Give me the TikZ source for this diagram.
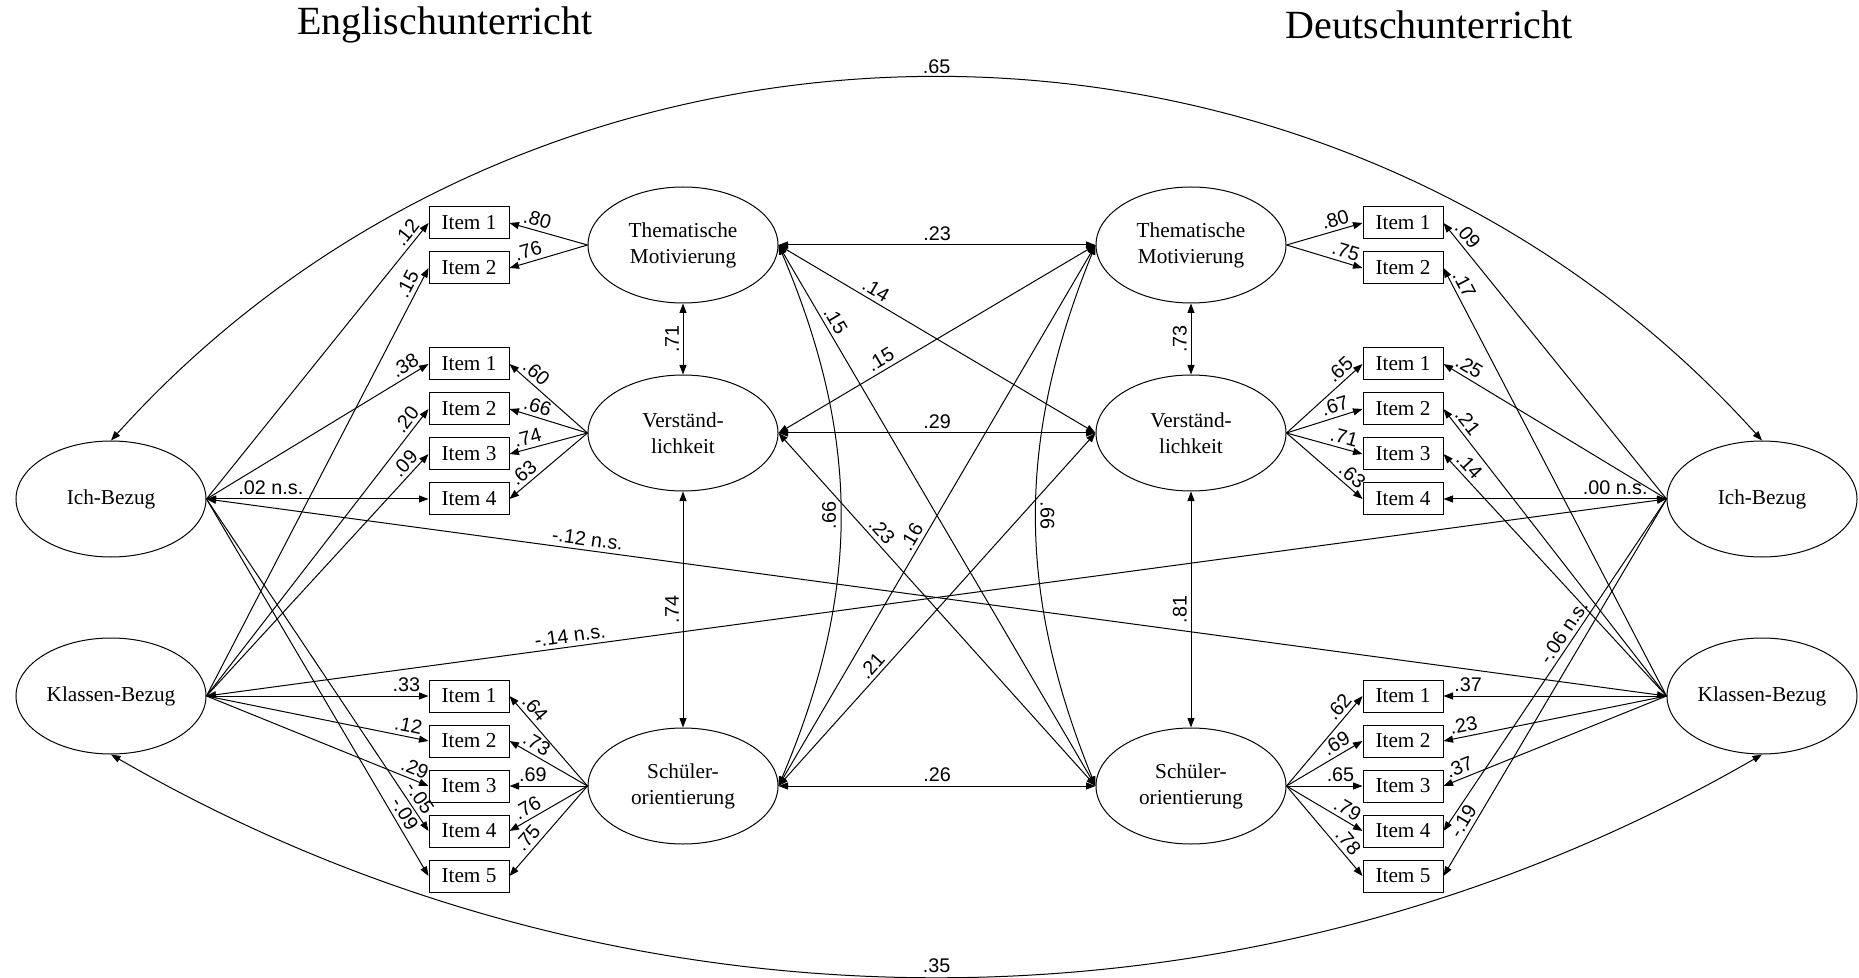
\documentclass[tikz,border=0pt]{standalone}
\usepackage{fontspec}
\setmainfont{Liberation Serif}
\newfontfamily\numfont{Liberation Sans}
\usetikzlibrary{arrows.meta,shapes.geometric}
\tikzstyle{latent}=[ellipse, draw=black, minimum width=76pt, minimum height=46.4pt, inner sep=0pt, align=center, font=\fontsize{8.5}{10.4}\selectfont]
\tikzstyle{itembox}=[rectangle, draw=black, minimum width=32pt, minimum height=12.8pt, inner sep=0pt, font=\fontsize{8.5}{10}\selectfont]
\tikzstyle{coef}=[font=\numfont\fontsize{7.9}{8}\selectfont, inner sep=1.5pt]
\tikzstyle{headline}=[font=\fontsize{16}{18}\selectfont]
\tikzstyle{conn}=[-{Triangle[length=3.8pt,width=2.8pt]}]
\tikzstyle{corr}=[{Triangle[length=3.8pt,width=2.8pt]}-{Triangle[length=3.8pt,width=2.8pt]}]
\newcommand{\itemcolumn}[4]
{
  \foreach \i in {1,...,#4}
    \node[itembox] (#1-\i) at (#2,{#3+45*(\i-1)}) {Item \i};
}

\begin{document}
\begin{tikzpicture}[x=0.4pt, y=-0.4pt, line width=0.4pt]
	\useasboundingbox (0,0) rectangle (1859,978);

	\node[headline] (engl) at (445,25) {Englischunterricht};
	\node[headline] (deut) at (1429,25) {Deutschunterricht};

	% latente Variablen
	\node[latent] (themL) at (683,245) {Thematische\\Motivierung};
	\node[latent] (verstL) at (683,433) {Verständ-\\lichkeit};
	\node[latent] (schuelL) at (683,786) {Schüler-\\orientierung};
	\node[latent] (themR) at (1191,245) {Thematische\\Motivierung};
	\node[latent] (verstR) at (1191,433) {Verständ-\\lichkeit};
	\node[latent] (schuelR) at (1191,786) {Schüler-\\orientierung};
	\node[latent] (ichL) at (111,499) {Ich-Bezug};
	\node[latent] (klassL) at (111,696) {Klassen-Bezug};
	\node[latent] (ichR) at (1762,499) {Ich-Bezug};
	\node[latent] (klassR) at (1762,696) {Klassen-Bezug};

	\itemcolumn{themL}{469}{223}{2}
	\itemcolumn{verstL}{469}{364}{4}
	\itemcolumn{schuelL}{469}{696}{5}
	\itemcolumn{themR}{1403}{223}{2}
	\itemcolumn{verstR}{1403}{364}{4}
	\itemcolumn{schuelR}{1403}{696}{5}

	% Ladungen
	\foreach \i/\v/\p in {1/.80/.68, 2/.76/.72}
		\draw[conn] (themL.west) -- node[coef, sloped, above, pos=\p] {\v} (themL-\i.east);
	\foreach \i/\v/\p in {1/.60/.75, 2/.66/.68, 3/.74/.73, 4/.63/.73}
		\draw[conn] (verstL.west) -- node[coef, sloped, above, pos=\p] {\v} (verstL-\i.east);
	\foreach \i/\v/\p in {1/.64/.78, 2/.73/.72, 3/.69/.70, 4/.76/.70, 5/.75/.66}
		\draw[conn] (schuelL.west) -- node[coef, sloped, above, pos=\p] {\v} (schuelL-\i.east);
	\foreach \i/\v/\p in {1/.80/.68, 2/.75/.74}
		\draw[conn] (themR.east) -- node[coef, sloped, above, pos=\p] {\v} (themR-\i.west);
	\foreach \i/\v/\p in {1/.65/.80, 2/.67/.68, 3/.71/.72, 4/.63/.77}
		\draw[conn] (verstR.east) -- node[coef, sloped, above, pos=\p] {\v} (verstR-\i.west);
	\foreach \i/\v/\p in {1/.62/.80, 2/.69/.73, 3/.65/.71, 4/.79/.73, 5/.78/.70}
		\draw[conn] (schuelR.east) -- node[coef, sloped, above, pos=\p] {\v} (schuelR-\i.west);

	% Bezugsnormen links
	\draw[conn] (ichL.east) -- node[coef, sloped, above, pos=.94] {.12} (themL-1.west);
	\draw[conn] (klassL.east) -- node[coef, sloped, above, pos=.95] {.15} (themL-2.west);
	\draw[conn] (ichL.east) -- node[coef, sloped, above, pos=.92] {.38} (verstL-1.west);
	\draw[conn] (klassL.east) -- node[coef, sloped, above, pos=.94] {.20} (verstL-2.west);
	\draw[conn] (klassL.east) -- node[coef, sloped, above, pos=.93] {.09} (verstL-3.west);
	\draw[corr] (ichL.east) -- node[coef, above, pos=.29] {.02 n.s.} (verstL-4.west);
	\foreach \i/\v/\p in {1/.33/.90, 2/.12/.90, 3/.29/.92}
		\draw[conn] (klassL.east) -- node[coef, sloped, above, pos=\p] {\v} (schuelL-\i.west);
	\draw[conn] (ichL.east) -- node[coef, sloped, above, pos=.92] {-.05} (schuelL-4.west);
	\draw[conn] (ichL.east) -- node[coef, sloped, above, pos=.85] {-.09} (schuelL-5.west);

	% Bezugsnormen rechts
	\draw[conn] (ichR.west) -- node[coef, sloped, above, pos=.93] {.09} (themR-1.east);
	\draw[conn] (klassR.west) -- node[coef, sloped, above, pos=.95] {.17} (themR-2.east);
	\draw[conn] (ichR.west) -- node[coef, sloped, above, pos=.91] {.25} (verstR-1.east);
	\draw[conn] (klassR.west) -- node[coef, sloped, above, pos=.93] {.21} (verstR-2.east);
	\draw[conn] (klassR.west) -- node[coef, sloped, above, pos=.92] {.14} (verstR-3.east);
	\draw[corr] (verstR-4.east) -- node[coef, above, pos=.77] {.00 n.s.} (ichR.west);
	\foreach \i/\v/\p in {1/.37/.89, 2/.23/.90, 3/.37/.91}
		\draw[conn] (klassR.west) -- node[coef, sloped, above, pos=\p] {\v} (schuelR-\i.east);
	\draw[conn] (ichR.west) -- node[coef, sloped, above, pos=.42] {-.06 n.s.} (schuelR-4.east);
	\draw[conn] (ichR.west) -- node[coef, sloped, above, pos=.87] {-.19} (schuelR-5.east);

	% Korrelationen
	\draw[corr] (ichL.east) -- node[coef, sloped, above, pos=.26] {-.12 n.s.} (klassR.west);
	\draw[corr] (klassL.east) -- node[coef, sloped, above, pos=.25] {-.14 n.s.} (ichR.west);
	\draw[corr] (ichL.north) to[bend left=48, looseness=1.01] node[coef, above] {.65} (ichR.north);
	\draw[corr] (klassL.south) to[bend right=30, looseness=0.92] node[coef, above] {.35} (klassR.south);

	\draw[corr] (themL.south) -- node[coef, midway, rotate=90, anchor=south] {.71} (verstL.north);
	\draw[corr] (verstL.south) -- node[coef, midway, rotate=90, anchor=south] {.74} (schuelL.north);
	\draw[corr] (themR.south) -- node[coef, midway, rotate=90, anchor=south] {.73} (verstR.north);
	\draw[corr] (verstR.south) -- node[coef, midway, rotate=90, anchor=south] {.81} (schuelR.north);

	\draw[corr] (themL.east) -- node[coef, above] {.23} (themR.west);
	\draw[corr] (verstL.east) -- node[coef, above] {.29} (verstR.west);
	\draw[corr] (schuelL.east) -- node[coef, above] {.26} (schuelR.west);
	\draw[corr] (themL.east) -- node[coef, sloped, above, pos=.29] {.14} (verstR.west);
	\draw[corr] (themL.east) -- node[coef, sloped, above, pos=.15] {.15} (schuelR.west);
	\draw[corr] (verstL.east) -- node[coef, sloped, above, pos=.34] {.15} (themR.west);
	\draw[corr] (verstL.east) -- node[coef, sloped, above, pos=.30] {.23} (schuelR.west);
	\draw[corr] (schuelL.east) -- node[coef, sloped, above, pos=.45] {.16} (themR.west);
	\draw[corr] (schuelL.east) -- node[coef, sloped, above, pos=.32] {.21} (verstR.west);
	\draw[corr] (themL.east) to[bend left=23] node[coef, midway, rotate=90, anchor=south] {.66} (schuelL.east);
	\draw[corr] (themR.west) to[bend right=22] node[coef, midway, rotate=-90, anchor=south] {.66} (schuelR.west);

\end{tikzpicture}
\end{document}
